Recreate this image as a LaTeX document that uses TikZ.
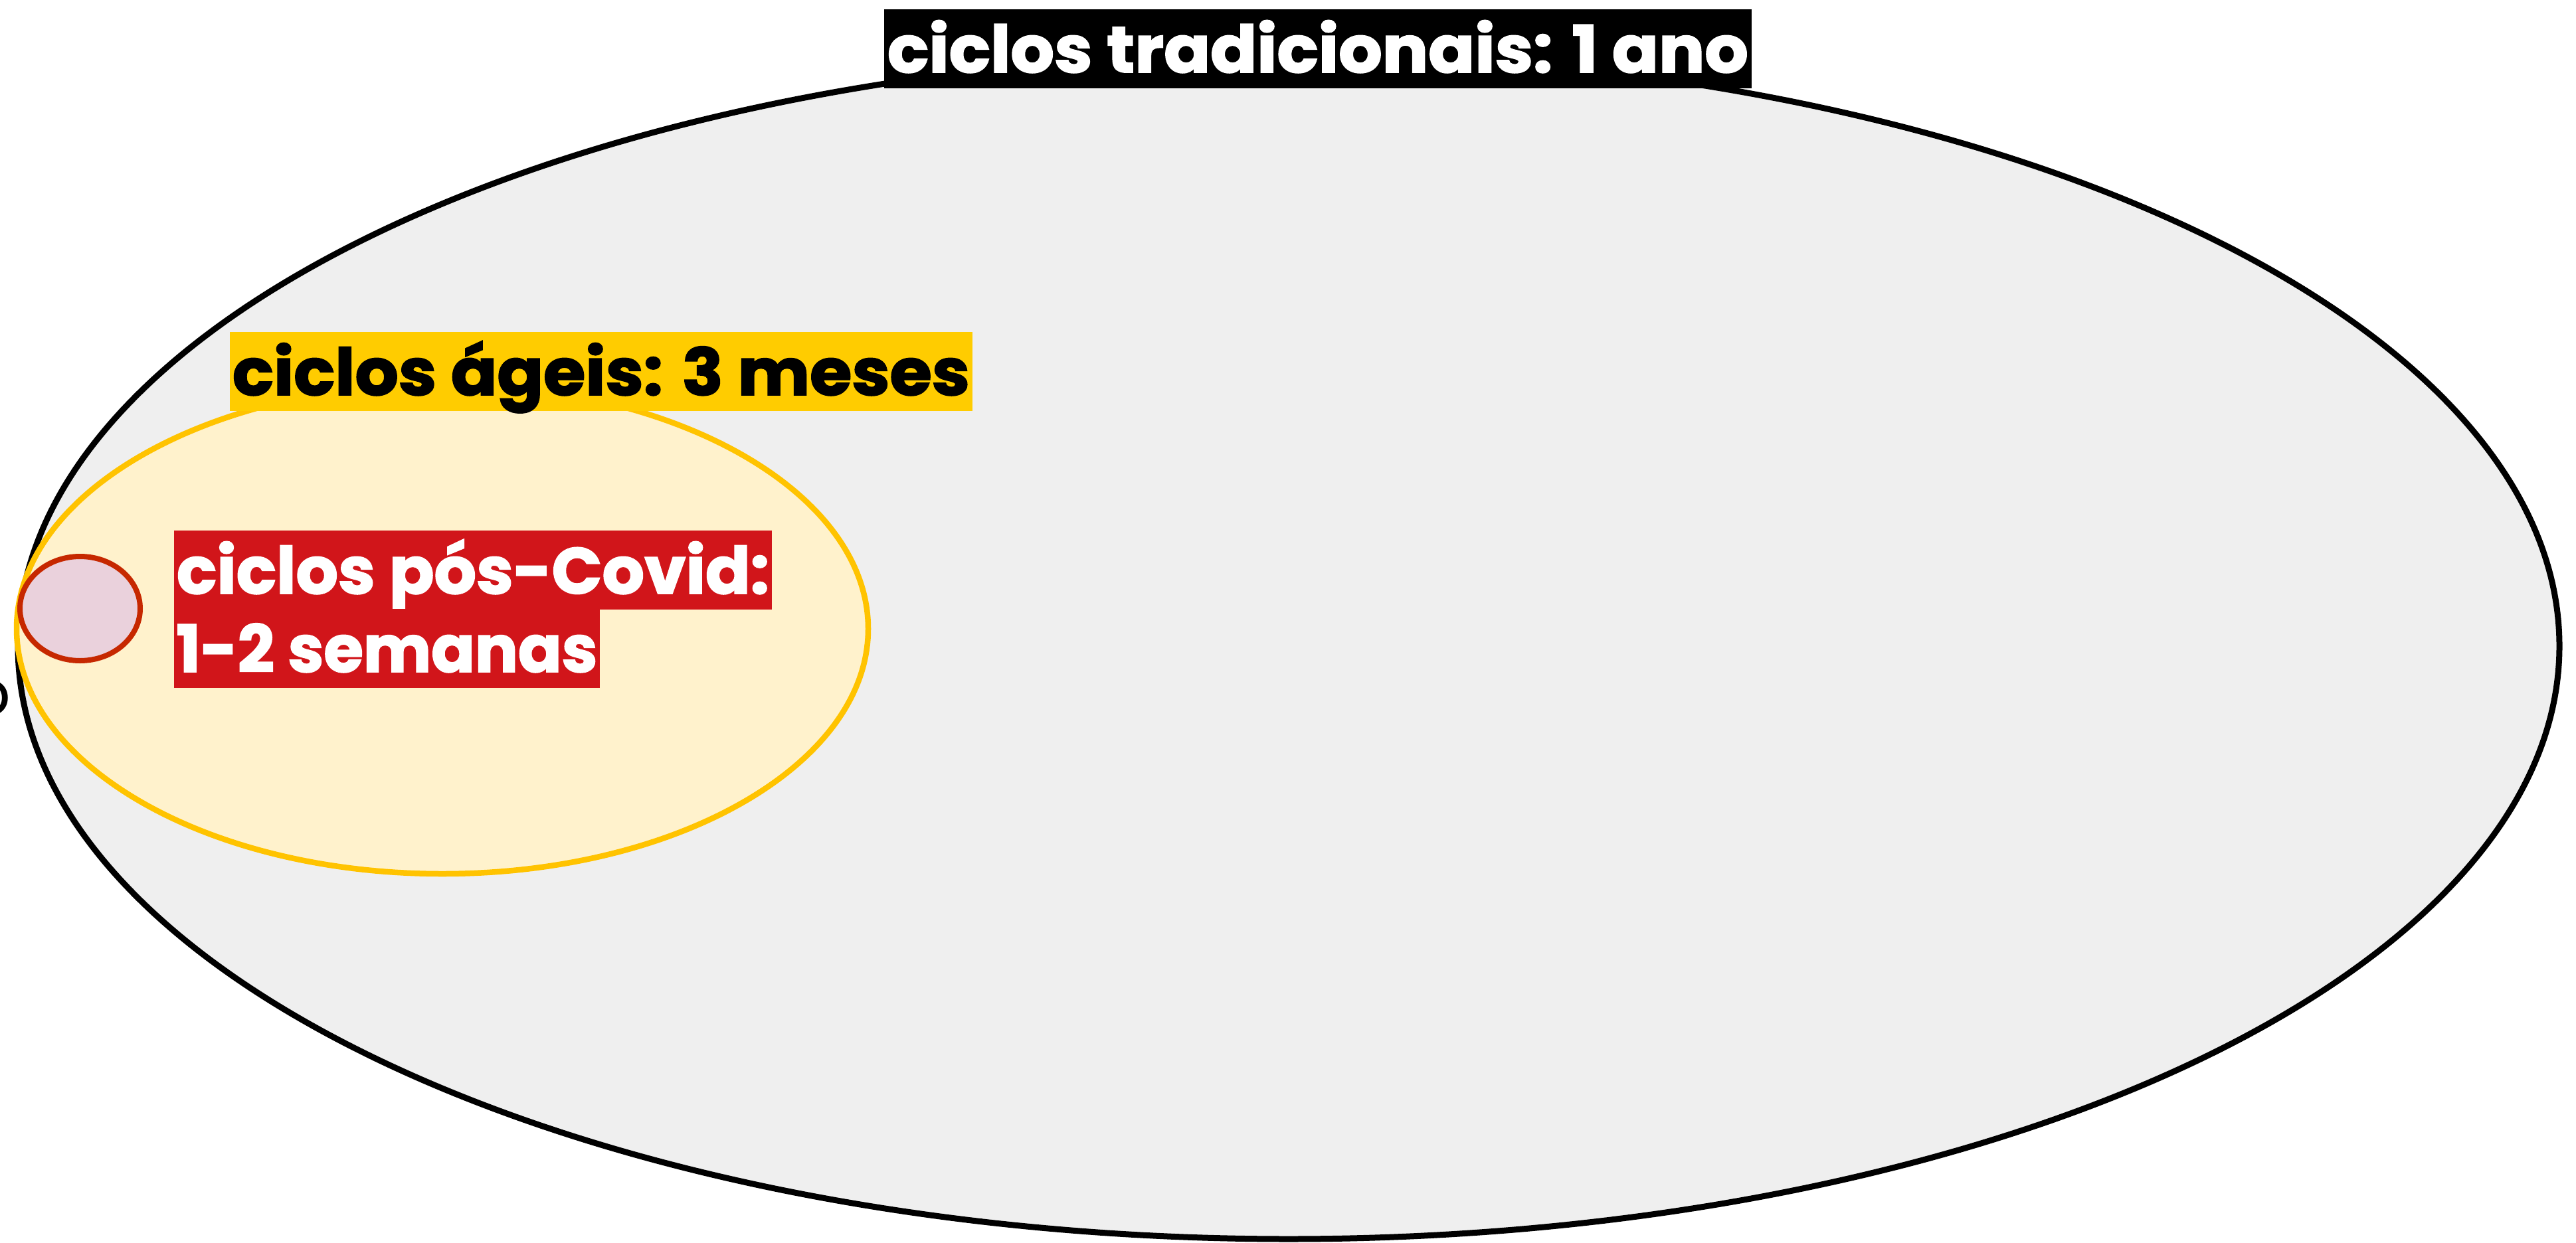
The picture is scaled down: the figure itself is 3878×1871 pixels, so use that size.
\documentclass[tikz,border=0pt]{standalone}
\usepackage{fontspec}
\setmainfont{Poppins}[BoldFeatures={FakeBold=2}]
\usepackage{graphicx}
\definecolor{bigfill}{HTML}{EFEFEF}
\definecolor{yelfill}{HTML}{FFF2CC}
\definecolor{yelline}{HTML}{FFC300}
\definecolor{yelbox}{HTML}{FFCC00}
\definecolor{redbox}{HTML}{D1151A}
\definecolor{smallfill}{HTML}{EAD1DC}
\definecolor{smallline}{HTML}{C62800}
\tikzset{
  lab/.style={inner sep=0pt, outer sep=0pt, text height=95pt, text depth=24pt, anchor=north west,
    font=\fontsize{98}{118}\selectfont\bfseries},
  ell/.style={line width=8.5pt},
}
\newcommand{\fitw}[2]{\resizebox{#1}{\height}{#2}}
\begin{document}
\begin{tikzpicture}[x=1pt,y=-1pt]
\useasboundingbox (0,0) rectangle (3878,1871);
\fill[white] (0,0) rectangle (3878,1871);
% partial text at left edge
\node[anchor=base east, inner sep=0pt, font=\fontsize{95}{110}\selectfont] (cut) at (17,1077) {o};
% big ellipse
\draw[ell, line width=9pt, draw=black, fill=bigfill] (1940,973) ellipse [x radius=1913, y radius=893];
\node[lab, fill=black, text=white, minimum width=1306pt] (trad) at (1331,14) {\fitw{1296pt}{ciclos tradicionais: 1 ano}};
% yellow ellipse
\draw[ell, draw=yelline, fill=yelfill] (666,947) ellipse [x radius=641, y radius=369];
\node[lab, fill=yelbox, text=black, minimum width=1118pt] (ageis) at (346,500) {\fitw{1110pt}{ciclos ágeis: 3 meses}};
% small ellipse
\draw[ell, line width=8pt, draw=smallline, fill=smallfill] (120.5,916.5) ellipse [x radius=90.5, y radius=78.5];
\node[lab, fill=redbox, text=white, minimum width=900pt] (covid1) at (262,799) {\fitw{892pt}{ciclos pós-Covid:}};
\node[lab, fill=redbox, text=white, minimum width=641pt] (covid2) at (262,917) {\fitw{634pt}{1-2 semanas}};
\end{tikzpicture}
\end{document}
